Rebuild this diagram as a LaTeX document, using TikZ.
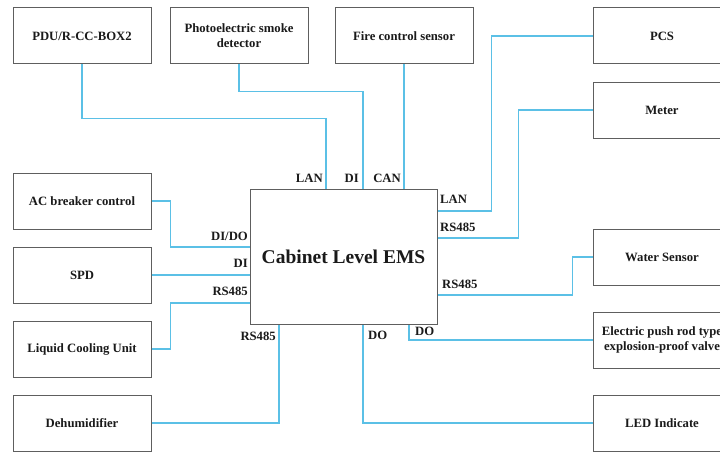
\documentclass[tikz,border=0pt]{standalone}
\usepackage{fontspec}
\setmainfont{Liberation Serif}
\usetikzlibrary{positioning}
\definecolor{hatMavi}{HTML}{5BC0E6}
\definecolor{kutuGri}{HTML}{5E5E5E}
\definecolor{yaziSiyah}{HTML}{1A1A1A}

\begin{document}
\begin{tikzpicture}[x=1pt, y=-1pt, every node/.style={font=\fontsize{12.7}{15}\selectfont\bfseries, text=yaziSiyah},
  unit/.style={draw=kutuGri, line width=1pt, minimum width=138pt, minimum height=56pt, inner sep=0pt, align=center},
  link/.style={draw=hatMavi, line width=1.6pt},
  port/.style={inner sep=0pt}]
\useasboundingbox (0,0) rectangle (720,452);
\clip (0,0) rectangle (720,452);
\fill[white] (0,0) rectangle (720,452);
% central controller
\node[unit, minimum width=187pt, minimum height=135pt, font=\fontsize{19.5}{22}\selectfont\bfseries] (ems) at (343.5,256.5) {Cabinet Level EMS};
% top row
\node[unit] (pdu) at (82,36) {PDU/R-CC-BOX2};
\node[unit] (smoke) at (239,36) {Photoelectric smoke\\detector};
\node[unit] (fire) at (404,36) {Fire control sensor};
% left column
\node[unit] (acb) at (82,201) {AC breaker control};
\node[unit] (spd) at (82,275) {SPD};
\node[unit] (cool) at (82,349) {Liquid Cooling Unit};
\node[unit] (dehum) at (82,423) {Dehumidifier};
% right column
\node[unit] (pcs) at (662,36) {PCS};
\node[unit] (meter) at (662,110) {Meter};
\node[unit] (water) at (662,257) {Water Sensor};
\node[unit] (valve) at (662,340) {Electric push rod type\\explosion-proof valve};
\node[unit] (led) at (662,423) {LED Indicate};
% ports on the EMS box
\coordinate (lanTop) at ([xshift=-17.5]ems.north);
\coordinate (diTop) at ([xshift=19.5]ems.north);
\coordinate (lanRight) at ([yshift=45.5]ems.east);
\coordinate (rsRightA) at ([yshift=18.5]ems.east);
\coordinate (rsRightB) at ([yshift=-38.5]ems.east);
\coordinate (doValve) at ([xshift=65.5]ems.south);
\coordinate (doLed) at ([xshift=19.5]ems.south);
\coordinate (dioLeft) at ([yshift=9.5]ems.west);
\coordinate (rsLeft) at ([yshift=-46.5]ems.west);
\coordinate (rsBot) at ([xshift=-64.5]ems.south);
% connectors
\draw[link] (pdu.south) -- ++(0,54) -| (lanTop);
\draw[link] (smoke.south) -- ++(0,27) -| (diTop);
\draw[link] (fire.south) -- (fire.south |- ems.north);
\draw[link] (pcs.west) -- ++(-101,0) |- (lanRight);
\draw[link] (meter.west) -- ++(-74,0) |- (rsRightA);
\draw[link] (water.west) -- ++(-20,0) |- (rsRightB);
\draw[link] (valve.west) -| (doValve);
\draw[link] (led.west) -| (doLed);
\draw[link] (acb.east) -- ++(19,0) |- (dioLeft);
\draw[link] (spd.east) -- (spd.east -| ems.west);
\draw[link] (cool.east) -- ++(19,0) |- (rsLeft);
\draw[link] (dehum.east) -| (rsBot);
% port labels
\node[port, anchor=base east] (lLanTop) at (323,182) {LAN};
\node[port, anchor=base east] (lDiTop) at (359,182) {DI};
\node[port, anchor=base east] (lCan) at (401,182) {CAN};
\node[port, anchor=base west] (lLanRight) at (440,203) {LAN};
\node[port, anchor=base west] (lRsRightA) at (440,231) {RS485};
\node[port, anchor=base west] (lRsRightB) at (442,288) {RS485};
\node[port, anchor=base west] (lDoValve) at (415,335) {DO};
\node[port, anchor=base west] (lDoLed) at (368,339) {DO};
\node[port, anchor=base east] (lDio) at (248,240) {DI/DO};
\node[port, anchor=base east] (lDiLeft) at (248,267) {DI};
\node[port, anchor=base east] (lRsLeft) at (248,295) {RS485};
\node[port, anchor=base east] (lRsBot) at (276,340) {RS485};
\end{tikzpicture}
\end{document}
